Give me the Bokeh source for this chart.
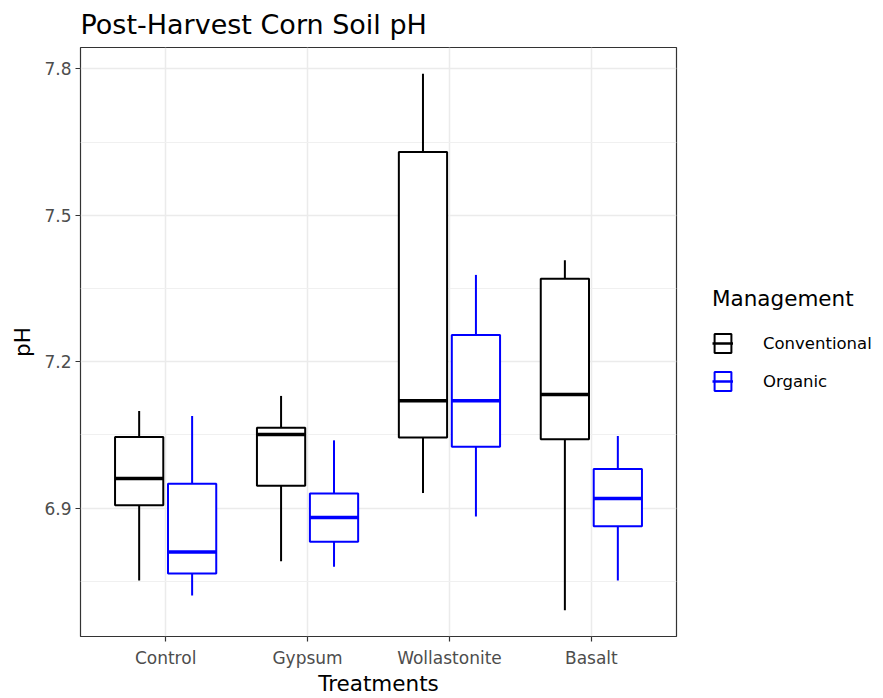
from bokeh.plotting import figure
from bokeh.layouts import row
from bokeh.models import Range1d, FixedTicker, Legend, LegendItem, ColumnDataSource
from bokeh.transform import dodge
from bokeh.embed import file_html
from bokeh.resources import INLINE

# ---- data ----
treatments = ["Control", "Gypsum", "Wollastonite", "Basalt"]
managements = ["Conventional", "Organic"]
colors = ["#000000", "#0000ff"]

conv_lower = [6.752, 6.791, 6.931, 6.691]
conv_q1 = [6.906, 6.946, 7.045, 7.041]
conv_median = [6.961, 7.051, 7.120, 7.133]
conv_q3 = [7.046, 7.065, 7.630, 7.370]
conv_upper = [7.099, 7.130, 7.790, 7.408]

org_lower = [6.721, 6.780, 6.883, 6.752]
org_q1 = [6.766, 6.831, 7.026, 6.863]
org_median = [6.810, 6.881, 7.120, 6.920]
org_q3 = [6.950, 6.930, 7.255, 6.980]
org_upper = [7.089, 7.039, 7.378, 7.048]

y_ticks = [6.9, 7.2, 7.5, 7.8]
y_minor_ticks = [6.75, 7.05, 7.35, 7.65]

FONT = "DejaVu Sans"
DODGE = 0.1866
BOX_W = 0.34

positions = list(range(1, len(treatments) + 1))

p = figure(width=678, height=698, output_backend="svg", toolbar_location=None,
           x_range=Range1d(0.4, 4.6), y_range=Range1d(6.637, 7.844),
           min_border_left=80, min_border_right=2, min_border_top=47, min_border_bottom=61,
           title="Post-Harvest Corn Soil pH")
p.background_fill_color = "white"
p.border_fill_color = "white"
p.outline_line_color = "#333333"
p.outline_line_width = 1.2

p.title.text_font = FONT
p.title.text_font_size = "27px"
p.title.text_font_style = "normal"
p.title.text_color = "#000000"
p.title.align = "left"
p.title.vertical_align = "top"
p.title.standoff = 12

# axes
xa = p.xaxis[0]
xa.ticker = FixedTicker(ticks=positions)
xa.major_label_overrides = {pos: name for pos, name in zip(positions, treatments)}
xa.axis_label = "Treatments"
ya = p.yaxis[0]
ya.ticker = FixedTicker(ticks=y_ticks, minor_ticks=y_minor_ticks)
ya.axis_label = "pH"
for ax in (xa, ya):
    ax.axis_line_color = None
    ax.major_tick_line_color = "#333333"
    ax.major_tick_line_width = 1.2
    ax.major_tick_out = 5
    ax.major_tick_in = 0
    ax.minor_tick_line_color = None
    ax.major_label_text_font = FONT
    ax.major_label_text_font_size = "17px"
    ax.major_label_text_color = "#4d4d4d"
    ax.axis_label_text_font = FONT
    ax.axis_label_text_font_size = "21.5px"
    ax.axis_label_text_font_style = "normal"
    ax.axis_label_text_color = "#000000"
xa.major_label_standoff = 6
xa.axis_label_standoff = 0
ya.major_label_standoff = 4
ya.axis_label_standoff = 6

p.xgrid.grid_line_color = "#ebebeb"
p.xgrid.grid_line_width = 1.5
p.ygrid.grid_line_color = "#ebebeb"
p.ygrid.grid_line_width = 1.5
p.ygrid.minor_grid_line_color = "#f0f0f0"
p.ygrid.minor_grid_line_width = 1

series = [
    (conv_lower, conv_q1, conv_median, conv_q3, conv_upper),
    (org_lower, org_q1, org_median, org_q3, org_upper),
]
offsets = [-DODGE, DODGE]

# ---- legend panel (separate canvas to the right of the plot) ----
lp = figure(width=205, height=698, output_backend="svg", toolbar_location=None,
            x_range=Range1d(0, 1), y_range=Range1d(0, 1),
            x_axis_location=None, y_axis_location=None,
            min_border=0)
lp.outline_line_color = None
lp.grid.grid_line_color = None
lp.background_fill_color = "white"
lp.border_fill_color = "white"

items = []
for name, color, (lo, q1, med, q3, up), off in zip(managements, colors, series, offsets):
    src = ColumnDataSource(dict(pos=positions, lower=lo, q1=q1, median=med, q3=q3, upper=up))
    p.segment(x0=dodge("pos", off), y0="q3", x1=dodge("pos", off), y1="upper",
              line_color=color, line_width=2, source=src)
    p.segment(x0=dodge("pos", off), y0="q1", x1=dodge("pos", off), y1="lower",
              line_color=color, line_width=2, source=src)
    p.vbar(x=dodge("pos", off), width=BOX_W, bottom="q1", top="q3",
           fill_color="white", line_color=color, line_width=2, source=src)
    p.segment(x0=dodge("pos", off - BOX_W / 2), x1=dodge("pos", off + BOX_W / 2),
              y0="median", y1="median", line_color=color, line_width=3.5, source=src)

    # hidden copies in the legend canvas, used only for the legend keys
    b = lp.vbar(x=dodge("pos", off), width=BOX_W, bottom="q1", top="q3",
                fill_color="white", line_color=color, line_width=2, source=src, visible=False)
    m = lp.segment(x0=dodge("pos", off - BOX_W / 2), x1=dodge("pos", off + BOX_W / 2),
                   y0="median", y1="median", line_color=color, line_width=2.5,
                   source=src, visible=False)
    items.append(LegendItem(label=name, renderers=[b, m]))

legend = Legend(items=items, title="Management", location=(34, 243),
                title_text_font=FONT, title_text_font_size="21.5px", title_text_font_style="normal",
                title_text_color="#000000",
                title_standoff=20, label_text_font=FONT, label_text_font_size="16.5px",
                label_text_color="#000000",
                glyph_width=21, glyph_height=24, label_height=24, label_standoff=30,
                spacing=14, padding=4, margin=0,
                inactive_fill_alpha=0,
                border_line_color=None, background_fill_alpha=0)
lp.add_layout(legend)

layout = row(p, lp)
open("out.html", "w").write(file_html(layout, INLINE))
